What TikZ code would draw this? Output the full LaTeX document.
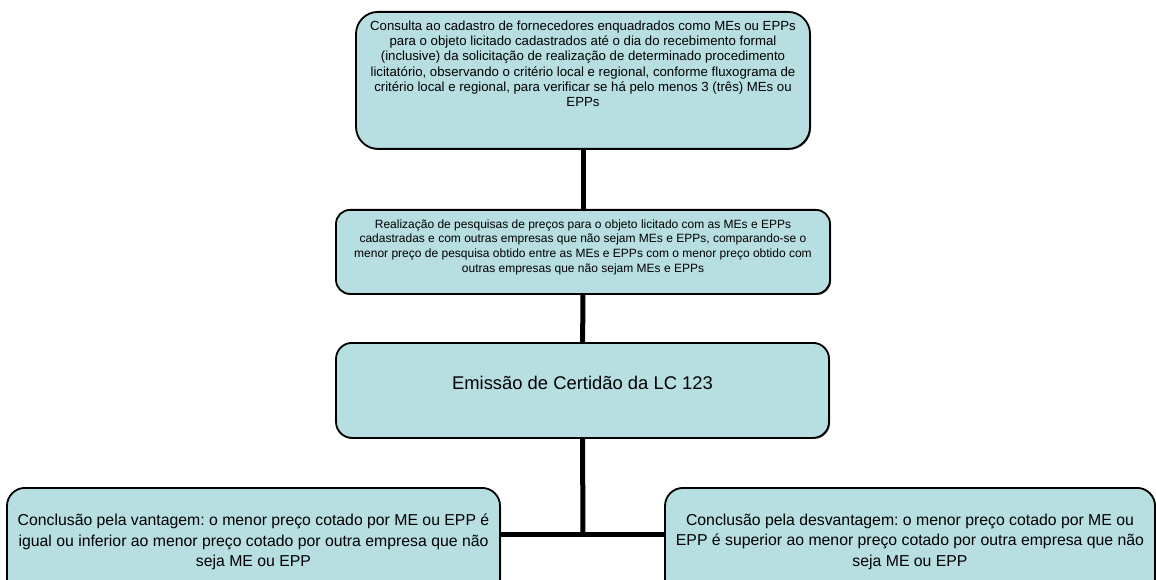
\documentclass[tikz,border=0pt]{standalone}
\usepackage{fontspec}
\setmainfont{Liberation Sans}
\usetikzlibrary{shadows}
\definecolor{boxblue}{RGB}{183,222,225}
\frenchspacing
\newcommand{\boxlines}[3]{\begin{minipage}[t][#2][t]{#1}\centering #3\end{minipage}}

\begin{document}
\begin{tikzpicture}[x=1pt, y=-1pt,
	box/.style={draw, line width=1.8pt, fill=boxblue, inner xsep=6pt, anchor=north,
		drop shadow={shadow xshift=1pt, shadow yshift=-1pt, opacity=0.7, fill=black}},
	link/.style={line width=5pt}
	]
	\useasboundingbox (0,0) rectangle (1156,580);
	\clip (0,0) rectangle (1156,580);

	% Top nodes
	\node[box, rounded corners=22pt, inner ysep=9pt] (consulta) at (583,11) {\boxlines{442pt}{119pt}{\fontsize{13.2}{15.2}\selectfont
		Consulta ao cadastro de fornecedores enquadrados como MEs ou EPPs\\
		para o objeto licitado cadastrados até o dia do recebimento formal\\
		(inclusive) da solicitação de realização de determinado procedimento\\
		licitatório, observando o critério local e regional, conforme fluxograma de\\
		critério local e regional, para verificar se há pelo menos 3 (três) MEs ou\\
		EPPs}};
	\node[box, rounded corners=14pt, inner ysep=9.5pt] (pesquisa) at (583,209) {\boxlines{482pt}{65pt}{\fontsize{12}{14.7}\selectfont
		Realização de pesquisas de preços para o objeto licitado com as MEs e EPPs\\
		cadastradas e com outras empresas que não sejam MEs e EPPs, comparando-se o\\
		menor preço de pesquisa obtido entre as MEs e EPPs com o menor preço obtido com\\
		outras empresas que não sejam MEs e EPPs}};
	\node[box, rounded corners=16pt, inner ysep=33pt] (certidao) at (582.5,342) {\boxlines{481pt}{29pt}{\fontsize{18.4}{21}\selectfont
		Emissão de Certidão da LC 123}};

	% Bottom nodes
	\node[box, rounded corners=18pt, inner ysep=26pt] (vantagem) at (253.5,487) {\boxlines{481pt}{57pt}{\fontsize{15.8}{20.5}\selectfont
		Conclusão pela vantagem: o menor preço cotado por ME ou EPP é\\
		igual ou inferior ao menor preço cotado por outra empresa que não\\
		seja ME ou EPP}};
	\node[box, rounded corners=18pt, inner ysep=26pt] (desvantagem) at (910,487) {\boxlines{478pt}{57pt}{\fontsize{15.8}{20.5}\selectfont
		Conclusão pela desvantagem: o menor preço cotado por ME ou\\
		EPP é superior ao menor preço cotado por outra empresa que não\\
		seja ME ou EPP}};

	% Connectors
	\coordinate (joint) at (583,534);
	\draw[link] (consulta) -- (pesquisa);
	\draw[link] (pesquisa) -- (certidao);
	\draw[link] (certidao.south) -- (joint);
	\draw[link] (vantagem.east |- joint) -- (desvantagem.west |- joint);

\end{tikzpicture}
\end{document}
